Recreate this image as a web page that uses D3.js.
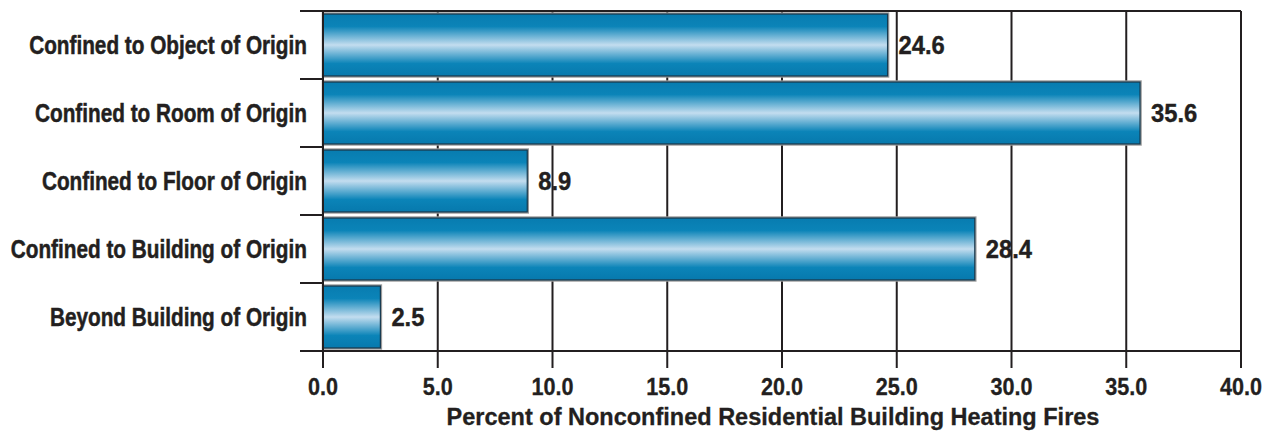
<!DOCTYPE html>
<html>
<head>
<meta charset="utf-8">
<script src="https://cdn.jsdelivr.net/npm/d3@7"></script>
<style>
  html, body { margin: 0; padding: 0; background: #fff; }
  svg { display: block; }
  text { font-family: "Liberation Sans", Arial, sans-serif; font-weight: bold; }
</style>
</head>
<body>
<svg id="chart" width="1275" height="431"></svg>
<script>
// Extent of fire spread, nonconfined residential building heating fires
const categories = [
  "Confined to Object of Origin",
  "Confined to Room of Origin",
  "Confined to Floor of Origin",
  "Confined to Building of Origin",
  "Beyond Building of Origin"
];
const percents = [24.6, 35.6, 8.9, 28.4, 2.5];
const xTicks = [0, 5, 10, 15, 20, 25, 30, 35, 40];
const xTitle = "Percent of Nonconfined Residential Building Heating Fires";

(function draw() {
  const W = 1275, H = 431;
  const margin = { top: 11, right: 34, bottom: 80, left: 323 };
  const ink = "#231f20";

  const svg = d3.select("#chart");

  // Squeeze a text's glyphs horizontally to mimic a condensed face
  function condense(sel, factor) {
    sel.each(function () {
      const w = this.getComputedTextLength();
      d3.select(this).attr("textLength", w * factor).attr("lengthAdjust", "spacingAndGlyphs");
    });
  }

  // Vertical sheen gradient for the bars
  const defs = svg.append("defs");
  const grad = defs.append("linearGradient")
    .attr("id", "barSheen").attr("x1", 0).attr("y1", 0).attr("x2", 0).attr("y2", 1);
  [
    [0, "#087cb0"], [0.2, "#0b84b8"], [0.5, "#c3ddef"], [0.8, "#0b84b8"], [1, "#0779ad"]
  ].forEach(([o, c]) => grad.append("stop").attr("offset", o).attr("stop-color", c));

  const x = d3.scaleLinear().domain([0, 40]).range([margin.left, W - margin.right]);
  const y = d3.scaleBand().domain(categories)
    .range([margin.top, H - margin.bottom])
    .paddingInner(0.09).paddingOuter(0.045);

  const plotTop = margin.top, plotBottom = H - margin.bottom;
  const step = y.step();

  // Vertical gridlines, running down past the axis as tick marks
  svg.append("g").selectAll("line").data(xTicks).join("line")
    .attr("x1", d => x(d)).attr("x2", d => x(d))
    .attr("y1", plotTop).attr("y2", plotBottom + 17)
    .attr("stroke", ink).attr("stroke-width", 2);

  // Top border and band separators, which extend left as tick marks
  const bounds = d3.range(categories.length + 1).map(i => plotTop + i * step);
  svg.append("g").selectAll("line").data(bounds).join("line")
    .attr("x1", margin.left - 23)
    .attr("x2", (d, i) => (i === 0 || i === categories.length) ? x(40) : margin.left)
    .attr("y1", d => d).attr("y2", d => d)
    .attr("stroke", ink).attr("stroke-width", 2);

  // Bars
  const bars = svg.append("g");
  bars.selectAll("rect.halo").data(percents).join("rect")
    .attr("class", "halo")
    .attr("x", x(0)).attr("y", (d, i) => y(categories[i]) - 0.5)
    .attr("width", d => x(d) - x(0) + 0.5).attr("height", y.bandwidth() + 1)
    .attr("fill", "none").attr("stroke", "#9a9a9a").attr("stroke-width", 2.5);
  bars.selectAll("rect.bar").data(percents).join("rect")
    .attr("class", "bar")
    .attr("x", x(0)).attr("y", (d, i) => y(categories[i]))
    .attr("width", d => x(d) - x(0)).attr("height", y.bandwidth())
    .attr("fill", "url(#barSheen)").attr("stroke", "#163a50").attr("stroke-width", 1.2);

  // Left axis line
  svg.append("line")
    .attr("x1", margin.left).attr("x2", margin.left)
    .attr("y1", plotTop).attr("y2", plotBottom + 17)
    .attr("stroke", ink).attr("stroke-width", 2);

  // Value labels
  svg.append("g").selectAll("text").data(percents).join("text")
    .attr("x", d => x(d) + 11)
    .attr("y", (d, i) => y(categories[i]) + y.bandwidth() / 2)
    .attr("dy", "0.36em")
    .attr("font-size", 25).attr("fill", ink)
    .attr("stroke", ink).attr("stroke-width", 0.4)
    .text(d => d.toFixed(1))
    .call(condense, 0.95);

  // Category labels
  svg.append("g").selectAll("text").data(categories).join("text")
    .attr("x", margin.left - 16)
    .attr("y", d => y(d) + y.bandwidth() / 2)
    .attr("dy", "0.37em")
    .attr("text-anchor", "end")
    .attr("font-size", 25).attr("fill", ink)
    .attr("stroke", ink).attr("stroke-width", 0.5)
    .text(d => d)
    .call(condense, 0.83);

  // X tick labels
  svg.append("g").selectAll("text").data(xTicks).join("text")
    .attr("x", d => x(d)).attr("y", plotBottom + 44)
    .attr("text-anchor", "middle")
    .attr("font-size", 24).attr("fill", ink)
    .attr("stroke", ink).attr("stroke-width", 0.3)
    .text(d => d.toFixed(1))
    .call(condense, 0.9);

  // X axis title
  svg.append("text")
    .attr("x", (x(0) + x(40)) / 2 - 9).attr("y", plotBottom + 74)
    .attr("text-anchor", "middle")
    .attr("font-size", 23.5).attr("fill", ink)
    .attr("stroke", ink).attr("stroke-width", 0.3)
    .text(xTitle);
})();
</script>
</body>
</html>
